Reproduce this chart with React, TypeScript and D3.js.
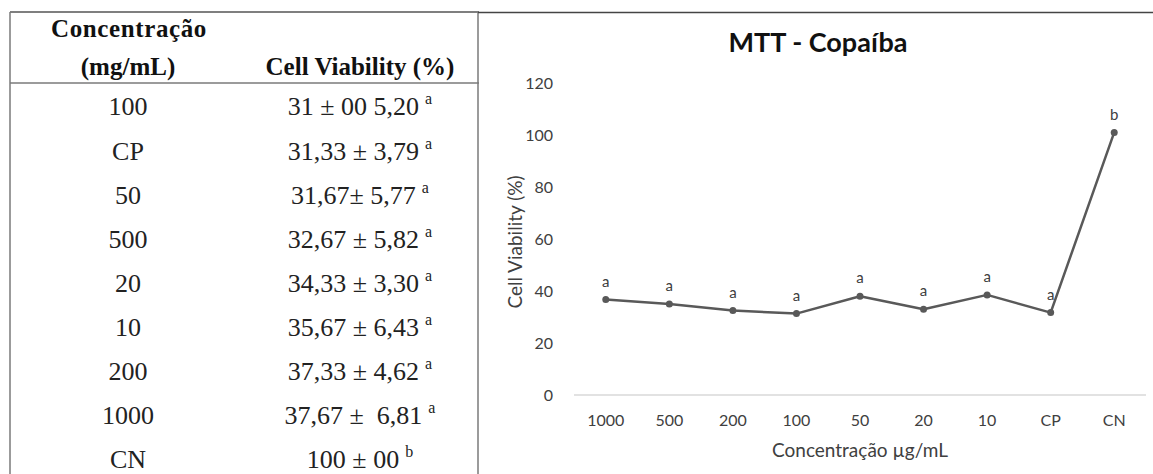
import React, {useEffect, useRef} from 'react'
import * as d3 from 'd3'

// tabela
const tableConc = ['100', 'CP', '50', '500', '20', '10', '200', '1000', 'CN']
const tableValue = ['31 ± 00 5,20', '31,33 ± 3,79', '31,67± 5,77', '32,67 ± 5,82', '34,33 ± 3,30',
  '35,67 ± 6,43', '37,33 ± 4,62', '37,67 ±  6,81', '100 ± 00']
const tableLetter = ['a', 'a', 'a', 'a', 'a', 'a', 'a', 'a', 'b']

// grafico MTT
const categories = ['1000', '500', '200', '100', '50', '20', '10', 'CP', 'CN']
const viability = [36.7, 35, 32.5, 31.3, 38, 33, 38.5, 31.7, 101]
const letters = ['a', 'a', 'a', 'a', 'a', 'a', 'a', 'a', 'b']
const yTicks = [0, 20, 40, 60, 80, 100, 120]

const W = 1153
const H = 474

const App = () => {
  const ref = useRef(null)

  useEffect(() => {
    const svg = d3.select(ref.current)
    svg.selectAll('*').remove()

    // ---- table ----
    const serif = "'Liberation Serif', 'Times New Roman', serif"
    const lineCol = '#7a7a7a'
    const tbl = svg.append('g')

    tbl.append('line').attr('x1', 10).attr('x2', 479).attr('y1', 12).attr('y2', 12)
      .attr('stroke', '#555').attr('stroke-width', 1.5)
    tbl.append('line').attr('x1', 10).attr('x2', 479).attr('y1', 83).attr('y2', 83)
      .attr('stroke', lineCol).attr('stroke-width', 1.5)
    tbl.append('line').attr('x1', 10).attr('x2', 10).attr('y1', 12).attr('y2', H)
      .attr('stroke', lineCol).attr('stroke-width', 1.5)
    tbl.append('line').attr('x1', 478).attr('x2', 478).attr('y1', 12).attr('y2', H)
      .attr('stroke', lineCol).attr('stroke-width', 1.5)

    const header = tbl.append('g')
      .attr('font-family', serif).attr('font-weight', 'bold').attr('font-size', 25)
      .attr('text-anchor', 'middle').attr('fill', '#111')
    header.append('text').attr('x', 129).attr('y', 37).attr('letter-spacing', 0.6).text('Concentração')
    header.append('text').attr('x', 128).attr('y', 75).text('(mg/mL)')
    header.append('text').attr('x', 360).attr('y', 75).text('Cell Viability (%)')

    const rowY = d3.scaleBand().domain(d3.range(tableConc.length)).range([84.5, 481.5])
    const rows = tbl.append('g')
      .attr('font-family', serif).attr('font-size', 26).attr('fill', '#222')
      .attr('text-anchor', 'middle')

    rows.selectAll('text.conc')
      .data(tableConc)
      .join('text')
      .attr('class', 'conc')
      .attr('x', 128)
      .attr('y', (d, i) => rowY(i) + rowY.bandwidth() / 2)
      .attr('dy', '0.34em')
      .text(d => d)

    const val = rows.selectAll('text.val')
      .data(tableValue)
      .join('text')
      .attr('class', 'val')
      .attr('x', 360)
      .attr('y', (d, i) => rowY(i) + rowY.bandwidth() / 2)
      .attr('dy', '0.34em')
      .style('white-space', 'pre')
    val.append('tspan').text(d => d)
    val.append('tspan')
      .attr('dx', 6).attr('dy', -11).attr('font-size', 16)
      .text((d, i) => tableLetter[i])

    // ---- chart ----
    const sans = "Lato, 'Open Sans', sans-serif"
    const ch = svg.append('g')
    ch.append('line').attr('x1', 478).attr('x2', W).attr('y1', 12.5).attr('y2', 12.5)
      .attr('stroke', '#444').attr('stroke-width', 1.5)

    const x = d3.scaleBand().domain(categories).range([574, 1146])
    const y = d3.scaleLinear().domain([0, 120]).range([395, 83])
    const cx = d => x(d) + x.bandwidth() / 2

    ch.append('text')
      .attr('x', 818).attr('y', 52)
      .attr('text-anchor', 'middle')
      .attr('font-family', sans).attr('font-weight', 'bold').attr('font-size', 27)
      .attr('fill', '#111')
      .text('MTT - Copaíba')

    ch.append('line')
      .attr('x1', x.range()[0]).attr('x2', x.range()[1])
      .attr('y1', y(0)).attr('y2', y(0))
      .attr('stroke', '#d9d9d9').attr('stroke-width', 1.5)

    ch.append('g')
      .attr('font-family', sans).attr('font-size', 16).attr('fill', '#404040')
      .attr('text-anchor', 'end')
      .selectAll('text')
      .data(yTicks)
      .join('text')
      .attr('x', 553)
      .attr('y', d => y(d))
      .attr('dy', '0.35em')
      .text(d => d)

    ch.append('g')
      .attr('font-family', sans).attr('font-size', 16).attr('fill', '#404040')
      .attr('text-anchor', 'middle')
      .selectAll('text')
      .data(categories)
      .join('text')
      .attr('x', d => cx(d))
      .attr('y', 420)
      .attr('dy', '0.35em')
      .text(d => d)

    ch.append('text')
      .attr('transform', `translate(515,242) rotate(-90)`)
      .attr('text-anchor', 'middle').attr('dy', '0.35em')
      .attr('font-family', sans).attr('font-size', 19).attr('fill', '#404040')
      .text('Cell Viability (%)')

    ch.append('text')
      .attr('x', 860).attr('y', 450).attr('dy', '0.35em')
      .attr('text-anchor', 'middle')
      .attr('font-family', sans).attr('font-size', 19).attr('fill', '#404040')
      .text('Concentração µg/mL')

    const line = d3.line()
      .x((d, i) => cx(categories[i]))
      .y(d => y(d))

    ch.append('path')
      .datum(viability)
      .attr('d', line)
      .attr('fill', 'none')
      .attr('stroke', '#595959')
      .attr('stroke-width', 2.5)
      .attr('stroke-linejoin', 'round')

    ch.append('g')
      .selectAll('circle')
      .data(viability)
      .join('circle')
      .attr('cx', (d, i) => cx(categories[i]))
      .attr('cy', d => y(d))
      .attr('r', 3.5)
      .attr('fill', '#595959')

    ch.append('g')
      .attr('font-family', sans).attr('font-size', 15).attr('fill', '#404040')
      .attr('text-anchor', 'middle')
      .selectAll('text')
      .data(viability)
      .join('text')
      .attr('x', (d, i) => cx(categories[i]))
      .attr('y', d => y(d) - 18)
      .attr('dy', '0.35em')
      .text((d, i) => letters[i])
  }, [])

  return <svg ref={ref} width={W} height={H}
    style={{position: 'absolute', left: 0, top: 0, background: '#fff'}} />
}

export default App
